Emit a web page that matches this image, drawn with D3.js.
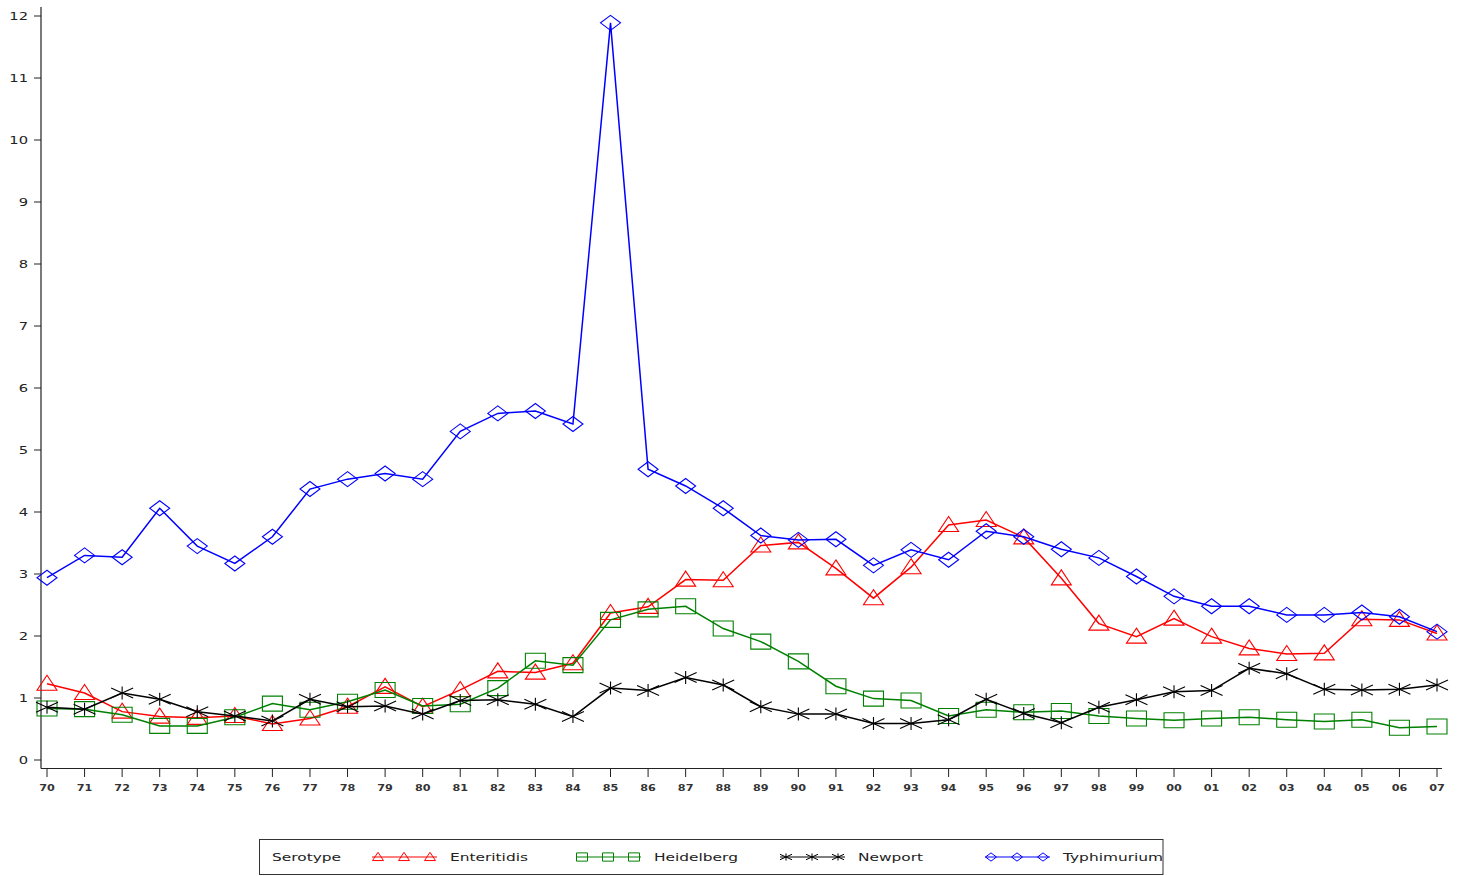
<!DOCTYPE html>
<html><head><meta charset="utf-8">
<script src="https://cdn.jsdelivr.net/npm/d3@7"></script>
<style>body{margin:0;background:#fff}svg{display:block}</style>
</head><body>
<svg id="chart" width="1462" height="876"></svg>
<script>
const years = ["70","71","72","73","74","75","76","77","78","79","80","81","82","83","84","85","86","87","88","89","90","91","92","93","94","95","96","97","98","99","00","01","02","03","04","05","06","07"];
const enteritidis = [1.23,1.08,0.78,0.70,0.68,0.71,0.58,0.67,0.86,1.18,0.86,1.13,1.43,1.41,1.56,2.37,2.47,2.91,2.90,3.46,3.51,3.09,2.61,3.11,3.79,3.87,3.59,2.93,2.20,1.99,2.28,1.99,1.80,1.71,1.72,2.27,2.26,2.04];
const heidelberg = [0.83,0.82,0.73,0.55,0.55,0.69,0.91,0.81,0.94,1.13,0.87,0.90,1.16,1.60,1.53,2.26,2.43,2.48,2.12,1.91,1.59,1.19,0.99,0.96,0.71,0.81,0.77,0.79,0.71,0.67,0.64,0.67,0.69,0.65,0.62,0.65,0.52,0.54];
const newport = [0.85,0.82,1.08,0.98,0.78,0.71,0.63,0.98,0.86,0.87,0.74,0.96,0.97,0.90,0.70,1.16,1.12,1.33,1.21,0.86,0.74,0.74,0.59,0.59,0.65,0.98,0.75,0.60,0.85,0.97,1.10,1.12,1.48,1.39,1.14,1.13,1.14,1.21];
const typhimurium = [2.94,3.30,3.27,4.06,3.45,3.17,3.60,4.37,4.53,4.62,4.53,5.30,5.59,5.63,5.42,11.89,4.69,4.42,4.06,3.62,3.55,3.56,3.14,3.39,3.23,3.69,3.60,3.40,3.26,2.96,2.64,2.48,2.48,2.34,2.34,2.38,2.31,2.07];
const yTicks = [0,1,2,3,4,5,6,7,8,9,10,11,12];
const seriesNames = ["Enteritidis","Heidelberg","Newport","Typhimurium"];
const seriesColors = ["#ff0000","#008000","#000000","#0000ff"];
const seriesShapes = ["triangle","square","star","diamond"];
const legendTitle = "Serotype";

const series = [enteritidis, heidelberg, newport, typhimurium].map((v,i)=>({name:seriesNames[i], values:v, color:seriesColors[i], shape:seriesShapes[i]}));

const svg = d3.select("#chart");
const SX = 1.4; // horizontal stretch of glyphs
const FONT = "DejaVu Sans, Verdana, sans-serif";
const x = d3.scalePoint().domain(years).range([47,1437]).padding(0);
const y = d3.scaleLinear().domain([0,12]).range([760,16]);

function markerPath(shape, s){
  const w = 10*s, h = 7.5*s;
  switch(shape){
    case "triangle": return `M0,${-8.5*s}L${w},${6.5*s}L${-w},${6.5*s}Z`;
    case "square": return `M${-w},${-h}H${w}V${h}H${-w}Z`;
    case "diamond": return `M0,${-h}L${w},0L0,${h}L${-w},0Z`;
    case "star": return `M0,${-6.5*s}V${6.5*s}M${-11*s},${-5*s}L${11*s},${5*s}M${-11*s},${5*s}L${11*s},${-5*s}`;
  }
}

// axes lines
const ax = svg.append("g").attr("stroke","#222").attr("stroke-width",1.2);
ax.append("line").attr("x1",41).attr("x2",41).attr("y1",7).attr("y2",768.5);
ax.append("line").attr("x1",41).attr("x2",1442).attr("y1",768.5).attr("y2",768.5);

// y ticks
const yAxis = svg.append("g");
yTicks.forEach(t=>{
  yAxis.append("line").attr("x1",34).attr("x2",41).attr("y1",y(t)).attr("y2",y(t)).attr("stroke","#222").attr("stroke-width",1);
  yAxis.append("text").attr("transform",`translate(28,${y(t)+4}) scale(${SX},1)`)
    .attr("text-anchor","end").attr("font-family",FONT).attr("font-size","10.5px").attr("fill","#222").text(t);
});
// x ticks
const xAxis = svg.append("g");
years.forEach(yr=>{
  xAxis.append("line").attr("x1",x(yr)).attr("x2",x(yr)).attr("y1",768.5).attr("y2",777).attr("stroke","#222").attr("stroke-width",1);
  xAxis.append("text").attr("transform",`translate(${x(yr)},${791}) scale(${SX},1)`)
    .attr("text-anchor","middle").attr("font-family",FONT).attr("font-size","8px").attr("font-weight","bold").attr("fill","#333").text(yr);
});

// lines and markers
const line = d3.line().x((d,i)=>x(years[i])).y(d=>y(d));
series.forEach(s=>{
  const g = svg.append("g");
  g.append("path").attr("d",line(s.values)).attr("fill","none").attr("stroke",s.color).attr("stroke-width",1.5);
  g.selectAll("path.m").data(s.values).join("path").attr("class","m")
    .attr("transform",(d,i)=>`translate(${x(years[i])},${y(d)})`)
    .attr("d",markerPath(s.shape,1)).attr("fill","none").attr("stroke",s.color).attr("stroke-width",1.1);
});

// legend
const lg = svg.append("g");
lg.append("rect").attr("x",259.5).attr("y",839.5).attr("width",903.5).attr("height",35).attr("fill","none").attr("stroke","#333").attr("stroke-width",1);
const ly = 857;
lg.append("text").attr("transform",`translate(272,${ly+4}) scale(${SX},1)`).attr("font-family",FONT).attr("font-size","11px").attr("fill","#222").text(legendTitle);
const legendX = [372,576,780,985];
series.forEach((s,i)=>{
  const x0 = legendX[i];
  lg.append("line").attr("x1",x0).attr("x2",x0+65).attr("y1",ly).attr("y2",ly).attr("stroke",s.color).attr("stroke-width",1.2);
  [6,32,58].forEach(dx=>{
    lg.append("path").attr("transform",`translate(${x0+dx},${ly}) `).attr("d",markerPath(s.shape,0.55))
      .attr("fill","none").attr("stroke",s.color).attr("stroke-width",1);
  });
  lg.append("text").attr("transform",`translate(${x0+78},${ly+4}) scale(${SX},1)`).attr("font-family",FONT).attr("font-size","11px").attr("fill","#222").text(s.name);
});
</script>
</body></html>
